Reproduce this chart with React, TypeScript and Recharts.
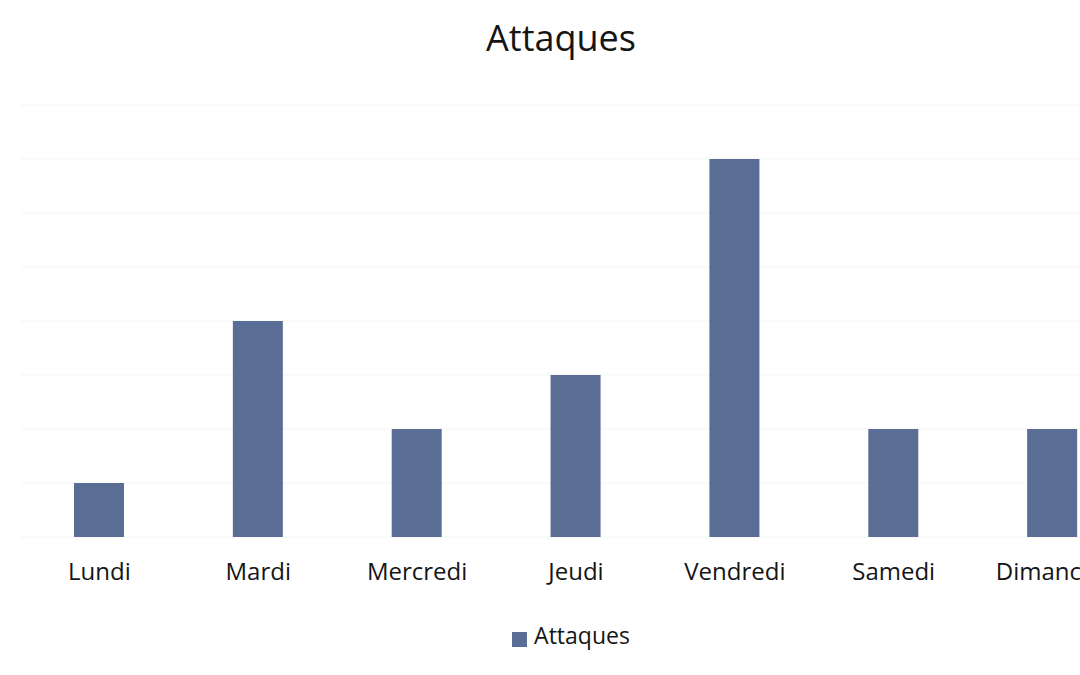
import React from "react";
import { BarChart, Bar, XAxis, YAxis, CartesianGrid, Legend } from "recharts";

const days = ["Lundi", "Mardi", "Mercredi", "Jeudi", "Vendredi", "Samedi", "Dimanche"];
const attaques = [1, 4, 2, 3, 7, 2, 2];
const yTicks = [0, 1, 2, 3, 4, 5, 6, 7, 8];

const data = days.map((d, i) => ({ day: d, Attaques: attaques[i] }));

const FONT = "'Open Sans', Lato, sans-serif";
const BAR = "#5a6d94";

export default function App() {
  return (
    <div
      style={{
        position: "absolute",
        left: 0,
        top: 0,
        width: 1080,
        height: 675,
        overflow: "hidden",
        background: "#fff",
        fontFamily: FONT,
      }}
    >
      <div
        style={{
          position: "absolute",
          left: 0,
          width: 1122,
          top: 14,
          textAlign: "center",
          fontSize: 36,
          color: "#151515",
          fontFamily: FONT,
          lineHeight: "48px",
        }}
      >
        Attaques
      </div>
      <BarChart
        width={1140}
        height={675}
        data={data}
        margin={{ top: 105, right: 8, bottom: 26, left: 20 }}
        barSize={50}
      >
        <CartesianGrid vertical={false} stroke="#f5f5f5" />
        <YAxis hide domain={[0, 8]} ticks={yTicks} />
        <XAxis
          dataKey="day"
          axisLine={false}
          tickLine={false}
          height={82}
          interval={0}
          tick={{ fill: "#151515", fontSize: 24, fontFamily: FONT, dy: 18 }}
        />
        <Legend
          verticalAlign="bottom"
          height={30}
          iconType="square"
          iconSize={15}
          formatter={(v) => (
            <span style={{ color: "#151515", fontSize: 23, fontFamily: FONT, marginLeft: 3 }}>{v}</span>
          )}
        />
        <Bar dataKey="Attaques" fill={BAR} isAnimationActive={false} />
      </BarChart>
    </div>
  );
}
